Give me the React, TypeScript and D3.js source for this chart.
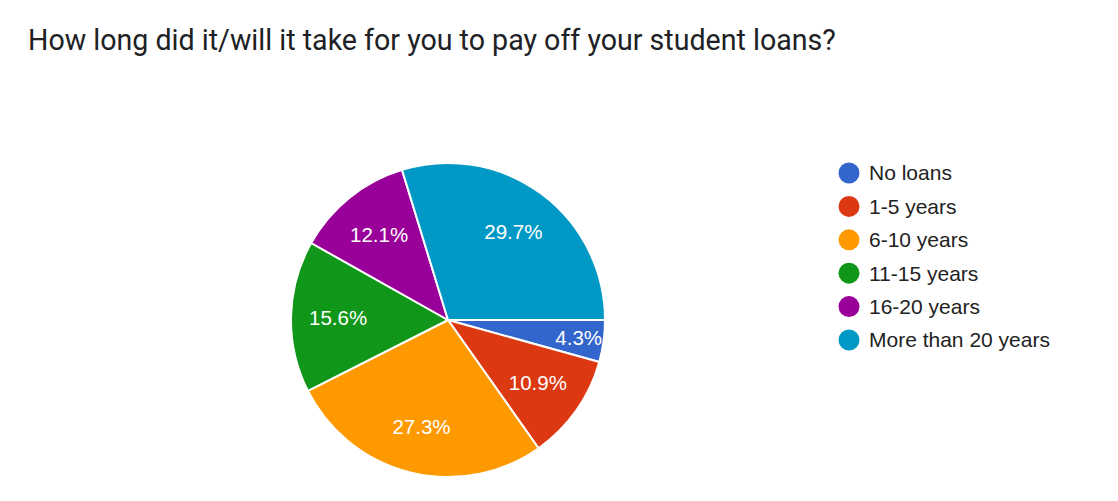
import { useEffect, useRef } from "react";
import * as d3 from "d3";

const categories = [
  "No loans",
  "1-5 years",
  "6-10 years",
  "11-15 years",
  "16-20 years",
  "More than 20 years",
];
const percents = [4.3, 10.9, 27.3, 15.6, 12.1, 29.7];
const colors = ["#3366cc", "#dc3912", "#ff9900", "#109618", "#990099", "#0099c6"];

const title = "How long did it/will it take for you to pay off your student loans?";

export default function App() {
  const ref = useRef<SVGSVGElement>(null);

  useEffect(() => {
    const width = 1118;
    const height = 501;
    const cx = 448;
    const cy = 320;
    const radius = 157;

    const svg = d3.select(ref.current);
    svg.selectAll("*").remove();
    svg.attr("width", width).attr("height", height);

    svg
      .append("rect")
      .attr("width", width)
      .attr("height", height)
      .attr("fill", "#ffffff");

    // title
    svg
      .append("text")
      .attr("x", 28)
      .attr("y", 50)
      .attr("font-family", "Roboto, Arial, sans-serif")
      .attr("font-size", "28.6px")
      .attr("fill", "#202124")
      .text(title);

    const data = categories.map((c, i) => ({ name: c, value: percents[i], color: colors[i] }));

    // pie starts at 3 o'clock and goes clockwise
    const pie = d3
      .pie<{ name: string; value: number; color: string }>()
      .value((d) => d.value)
      .sort(null)
      .startAngle(Math.PI / 2)
      .endAngle(Math.PI / 2 + 2 * Math.PI);

    const arcs = pie(data);
    const arc = d3
      .arc<d3.PieArcDatum<{ name: string; value: number; color: string }>>()
      .innerRadius(0)
      .outerRadius(radius);

    const g = svg.append("g").attr("transform", `translate(${cx},${cy})`);

    g.selectAll("path")
      .data(arcs)
      .enter()
      .append("path")
      .attr("d", arc)
      .attr("fill", (d) => d.data.color)
      .attr("stroke", "#ffffff")
      .attr("stroke-width", 2)
      .attr("stroke-linejoin", "round");

    // labels, pushed outward for thin slices
    g.selectAll("text.label")
      .data(arcs)
      .enter()
      .append("text")
      .attr("class", "label")
      .attr("transform", (d) => {
        const mid = (d.startAngle + d.endAngle) / 2;
        const r = d.data.value < 5 ? radius * 0.84 : radius * 0.7;
        return `translate(${Math.sin(mid) * r},${-Math.cos(mid) * r})`;
      })
      .attr("text-anchor", "middle")
      .attr("dy", "0.35em")
      .attr("font-family", "Arial, 'Liberation Sans', sans-serif")
      .attr("font-size", "20.5px")
      .attr("fill", "#ffffff")
      .text((d) => d.data.value.toFixed(1) + "%");

    // legend
    const legend = svg
      .selectAll("g.legend")
      .data(data)
      .enter()
      .append("g")
      .attr("class", "legend")
      .attr("transform", (_d, i) => `translate(849,${173 + i * 33.4})`);

    legend.append("circle").attr("r", 10.5).attr("fill", (d) => d.color);

    legend
      .append("text")
      .attr("x", 20)
      .attr("dy", "0.35em")
      .attr("font-family", "Arial, 'Liberation Sans', sans-serif")
      .attr("font-size", "21px")
      .attr("fill", "#222222")
      .text((d) => d.name);
  }, []);

  return (
    <div style={{ position: "absolute", left: 0, top: 0 }}>
      <svg ref={ref} style={{ display: "block" }} />
    </div>
  );
}
